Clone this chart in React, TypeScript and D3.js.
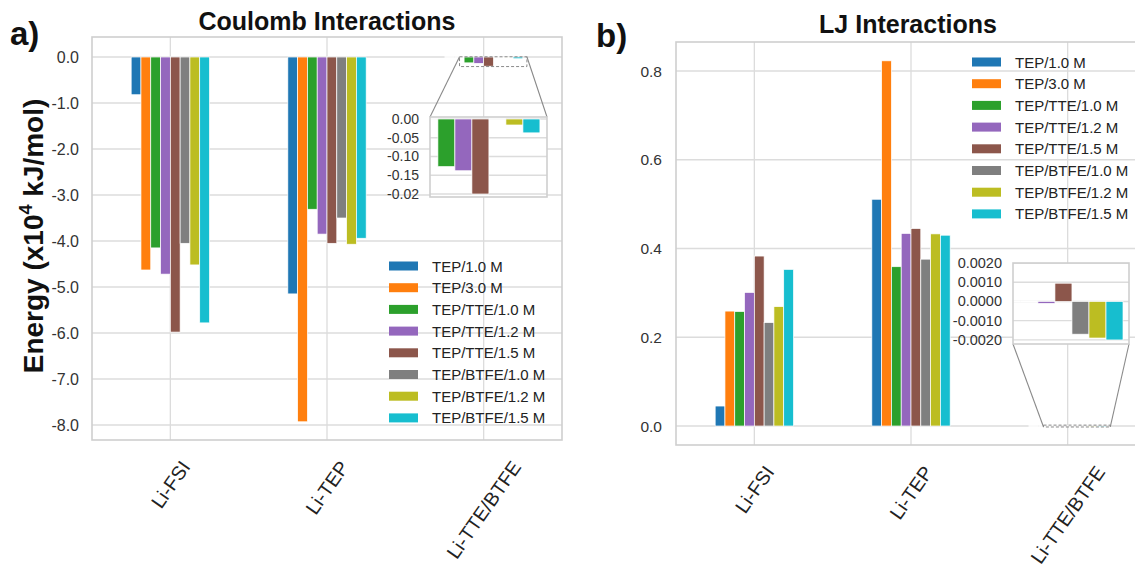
import React, { useEffect, useRef } from 'react';
import * as d3 from 'd3';

// ---------- data ----------
const categories = ['Li-FSI', 'Li-TEP', 'Li-TTE/BTFE'];
const seriesNames = [
  'TEP/1.0 M', 'TEP/3.0 M', 'TEP/TTE/1.0 M', 'TEP/TTE/1.2 M',
  'TEP/TTE/1.5 M', 'TEP/BTFE/1.0 M', 'TEP/BTFE/1.2 M', 'TEP/BTFE/1.5 M',
];
const seriesColors = ['#1f77b4', '#ff7f0e', '#2ca02c', '#9467bd', '#8c564b', '#7f7f7f', '#bcbd22', '#17becf'];

// Coulomb interactions (x10^4 kJ/mol), per series over categories
const coulombTEP10 = [-0.82, -5.15, 0];
const coulombTEP30 = [-4.63, -7.93, 0];
const coulombTTE10 = [-4.15, -3.31, -0.127];
const coulombTTE12 = [-4.72, -3.85, -0.138];
const coulombTTE15 = [-5.98, -4.05, -0.2];
const coulombBTFE10 = [-4.05, -3.5, 0];
const coulombBTFE12 = [-4.52, -4.07, -0.016];
const coulombBTFE15 = [-5.78, -3.94, -0.037];

// LJ interactions
const ljTEP10 = [0.045, 0.511, 0];
const ljTEP30 = [0.259, 0.823, 0];
const ljTTE10 = [0.258, 0.359, 0];
const ljTTE12 = [0.301, 0.434, -0.0001];
const ljTTE15 = [0.383, 0.445, 0.00095];
const ljBTFE10 = [0.233, 0.376, -0.0017];
const ljBTFE12 = [0.269, 0.433, -0.0019];
const ljBTFE15 = [0.353, 0.43, -0.002];

const coulombTicks = [0, -1, -2, -3, -4, -5, -6, -7, -8];
const coulombTickLabels = ['0.0', '-1.0', '-2.0', '-3.0', '-4.0', '-5.0', '-6.0', '-7.0', '-8.0'];
const coulombInsetTicks = [0, -0.05, -0.1, -0.15, -0.2];
const coulombInsetTickLabels = ['0.00', '-0.05', '-0.10', '-0.15', '-0.02'];
const ljTicks = [0, 0.2, 0.4, 0.6, 0.8];
const ljTickLabels = ['0.0', '0.2', '0.4', '0.6', '0.8'];
const ljInsetTicks = [0.002, 0.001, 0, -0.001, -0.002];
const ljInsetTickLabels = ['0.0020', '0.0010', '0.0000', '-0.0010', '-0.0020'];

const coulombSeries = [coulombTEP10, coulombTEP30, coulombTTE10, coulombTTE12, coulombTTE15, coulombBTFE10, coulombBTFE12, coulombBTFE15];
const ljSeries = [ljTEP10, ljTEP30, ljTTE10, ljTTE12, ljTTE15, ljBTFE10, ljBTFE12, ljBTFE15];

// ---------- styling ----------
const FONT = "'Liberation Sans', Arial, Helvetica, sans-serif";
const GRID = '#dcdcdc';
const FRAME = '#cfcfcf';
const BAR_W = 0.5 / seriesNames.length;
let clipId = 0;

function drawBars(g: any, xs: any, ys: any, series: number[][]) {
  series.forEach((vals, j) => {
    vals.forEach((v, i) => {
      const xl = xs(i - 0.25 + j * BAR_W);
      const xr = xs(i - 0.25 + (j + 1) * BAR_W);
      if (v === 0) {
        g.append('line').attr('x1', xl).attr('x2', xr).attr('y1', ys(0)).attr('y2', ys(0))
          .attr('stroke', '#fff').attr('stroke-width', 1.6);
      } else {
        g.append('rect')
          .attr('x', xl).attr('width', xr - xl)
          .attr('y', Math.min(ys(v), ys(0))).attr('height', Math.abs(ys(v) - ys(0)))
          .attr('fill', seriesColors[j]).attr('stroke', '#fff').attr('stroke-width', 0.7);
      }
    });
  });
}

function drawPanel(svg: any, cfg: any) {
  const g = svg.append('g');
  const xs = d3.scaleLinear().domain([-0.5, 2.5]).range(cfg.xRange);
  const ys = d3.scaleLinear().domain(cfg.yDomain).range(cfg.yRange);
  const [x0, x1] = cfg.xRange;
  const [yb, yt] = cfg.yRange;

  // grid
  g.selectAll('line.hg').data(cfg.ticks).join('line').attr('class', 'hg')
    .attr('x1', x0).attr('x2', x1).attr('y1', (d: number) => ys(d)).attr('y2', (d: number) => ys(d))
    .attr('stroke', GRID).attr('stroke-width', 1.3);
  g.selectAll('line.vg').data(categories.map((_, i) => i)).join('line').attr('class', 'vg')
    .attr('x1', (d: number) => xs(d)).attr('x2', (d: number) => xs(d)).attr('y1', yt).attr('y2', yb)
    .attr('stroke', GRID).attr('stroke-width', 1.3);

  // bars
  drawBars(g, xs, ys, cfg.series);

  // frame
  g.append('rect').attr('x', x0).attr('y', yt).attr('width', x1 - x0).attr('height', yb - yt)
    .attr('fill', 'none').attr('stroke', FRAME).attr('stroke-width', 1.6);

  // y tick labels
  g.selectAll('text.yt').data(cfg.ticks).join('text').attr('class', 'yt')
    .attr('x', cfg.tickLabelX).attr('y', (d: number) => ys(d))
    .attr('text-anchor', 'end').attr('dominant-baseline', 'central')
    .attr('font-family', FONT).attr('font-size', cfg.tickFont).attr('fill', '#333')
    .text((_: number, i: number) => cfg.tickLabels[i]);

  // x labels rotated 55 deg, centered
  const ang = 55 * Math.PI / 180;
  categories.forEach((c, i) => {
    const t = g.append('text').attr('font-family', FONT).attr('font-size', 19.5).attr('fill', '#222')
      .attr('text-anchor', 'middle').attr('dominant-baseline', 'central').text(c);
    const w = (t.node() as SVGTextElement).getComputedTextLength();
    const h = w * Math.sin(ang) + 19.5 * 1.1 * Math.cos(ang);
    const cy = yb + 17 + h / 2;
    t.attr('transform', `translate(${xs(i)},${cy}) rotate(-55)`);
  });

  // title
  g.append('text').attr('x', cfg.titleX).attr('y', cfg.titleY).attr('text-anchor', 'middle')
    .attr('font-family', FONT).attr('font-weight', 'bold').attr('font-size', 25).attr('fill', '#111')
    .text(cfg.title);
  // panel label
  g.append('text').attr('x', cfg.panelX).attr('y', cfg.panelY)
    .attr('font-family', FONT).attr('font-weight', 'bold').attr('font-size', 33).attr('fill', '#111')
    .text(cfg.panel);

  // inset
  const ins = cfg.inset;
  const ixs = d3.scaleLinear().domain(ins.xDomain).range([ins.x0, ins.x1]);
  const iys = d3.scaleLinear().domain(ins.yDomain).range([ins.y1, ins.y0]);
  const rx0 = xs(ins.xDomain[0]), rx1 = xs(ins.xDomain[1]);
  const ryTop = ys(ins.yDomain[1]), ryBot = ys(ins.yDomain[0]);
  g.append('rect').attr('x', rx0).attr('y', ryTop).attr('width', rx1 - rx0).attr('height', ryBot - ryTop)
    .attr('fill', 'none').attr('stroke', '#8a8a8a').attr('stroke-width', 1).attr('stroke-dasharray', '3,2');
  const cy = ins.connect === 'top' ? ryTop : ryBot;
  const iy = ins.connect === 'top' ? ins.y0 : ins.y1;
  g.append('line').attr('x1', rx0).attr('y1', cy).attr('x2', ins.x0).attr('y2', iy)
    .attr('stroke', '#8a8a8a').attr('stroke-width', 1.1);
  g.append('line').attr('x1', rx1).attr('y1', cy).attr('x2', ins.x1).attr('y2', iy)
    .attr('stroke', '#8a8a8a').attr('stroke-width', 1.1);

  const id = `clip${clipId++}`;
  g.append('clipPath').attr('id', id).append('rect')
    .attr('x', ins.x0).attr('y', ins.y0).attr('width', ins.x1 - ins.x0).attr('height', ins.y1 - ins.y0);
  const ig = g.append('g');
  ig.append('rect').attr('x', ins.x0).attr('y', ins.y0).attr('width', ins.x1 - ins.x0).attr('height', ins.y1 - ins.y0)
    .attr('fill', '#fff');
  const igc = ig.append('g').attr('clip-path', `url(#${id})`);
  igc.selectAll('line.ihg').data(ins.ticks).join('line').attr('class', 'ihg')
    .attr('x1', ins.x0).attr('x2', ins.x1).attr('y1', (d: number) => iys(d)).attr('y2', (d: number) => iys(d))
    .attr('stroke', GRID).attr('stroke-width', 1.3);
  drawBars(igc, ixs, iys, cfg.series);
  ig.append('rect').attr('x', ins.x0).attr('y', ins.y0).attr('width', ins.x1 - ins.x0).attr('height', ins.y1 - ins.y0)
    .attr('fill', 'none').attr('stroke', FRAME).attr('stroke-width', 1.6);
  ig.selectAll('text.it').data(ins.ticks).join('text').attr('class', 'it')
    .attr('x', ins.x0 - 11).attr('y', (d: number) => iys(d))
    .attr('text-anchor', 'end').attr('dominant-baseline', 'central')
    .attr('font-family', FONT).attr('font-size', ins.font).attr('fill', '#333')
    .text((_: number, i: number) => ins.labels[i]);

  // legend
  const lg = g.append('g');
  seriesNames.forEach((name, j) => {
    const y = cfg.legendY + j * 21.7;
    lg.append('rect').attr('x', cfg.legendX).attr('y', y - 4.5).attr('width', 29).attr('height', 9)
      .attr('fill', seriesColors[j]);
    lg.append('text').attr('x', cfg.legendX + 43).attr('y', y).attr('dominant-baseline', 'central')
      .attr('font-family', FONT).attr('font-size', 15).attr('fill', '#222').text(name);
  });
}

function draw(svg: any) {
  drawPanel(svg, {
    xRange: [92, 562], yRange: [440, 37], yDomain: [-8.326, 0.435],
    series: coulombSeries, ticks: coulombTicks, tickLabels: coulombTickLabels,
    tickLabelX: 79, tickFont: 16,
    title: 'Coulomb Interactions', titleX: 327, titleY: 30,
    panel: 'a)', panelX: 10, panelY: 45,
    legendX: 389, legendY: 266,
    inset: {
      x0: 430, x1: 547, y0: 117, y1: 197,
      xDomain: [1.846, 2.276], yDomain: [-0.208, 0.0053],
      ticks: coulombInsetTicks, labels: coulombInsetTickLabels, font: 14, connect: 'top',
    },
  });
  drawPanel(svg, {
    xRange: [676, 1146], yRange: [445, 42], yDomain: [-0.0428, 0.8654],
    series: ljSeries, ticks: ljTicks, tickLabels: ljTickLabels,
    tickLabelX: 662, tickFont: 15.5,
    title: 'LJ Interactions', titleX: 908, titleY: 33,
    panel: 'b)', panelX: 596, panelY: 47,
    legendX: 972, legendY: 62,
    inset: {
      x0: 1013, x1: 1129, y0: 263, y1: 344,
      xDomain: [1.846, 2.272], yDomain: [-0.00221, 0.002],
      ticks: ljInsetTicks, labels: ljInsetTickLabels, font: 14.5, connect: 'bottom',
    },
  });

  // y-axis label (left panel)
  const t = svg.append('text').attr('transform', 'translate(43,236) rotate(-90)')
    .attr('text-anchor', 'middle').attr('font-family', FONT).attr('font-weight', 'bold')
    .attr('font-size', 28).attr('fill', '#111');
  t.append('tspan').text('Energy (x10');
  t.append('tspan').attr('dy', -11).attr('font-size', 18).text('4');
  t.append('tspan').attr('dy', 11).text(' kJ/mol)');
}

export default function App() {
  const ref = useRef<SVGSVGElement>(null);
  useEffect(() => {
    const svg = d3.select(ref.current);
    svg.selectAll('*').remove();
    clipId = 0;
    draw(svg);
  }, []);
  return (
    <svg ref={ref} width={1135} height={575}
      style={{ position: 'absolute', left: 0, top: 0, background: '#fff' }} />
  );
}
